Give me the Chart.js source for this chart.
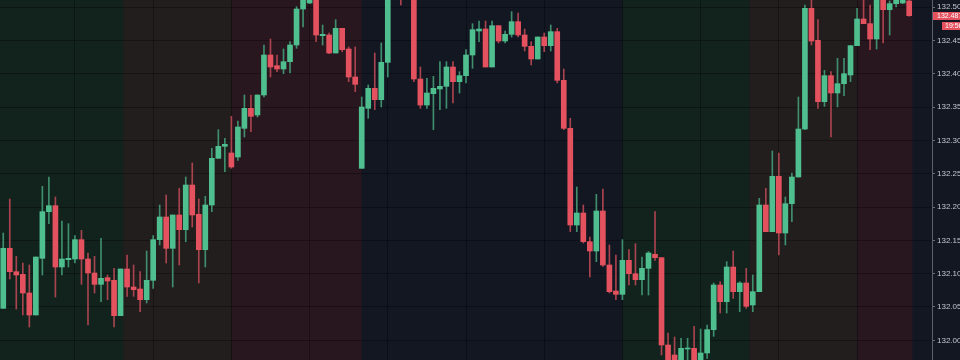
<!DOCTYPE html>
<html>
<head>
<meta charset="utf-8">
<script src="https://cdn.jsdelivr.net/npm/chart.js@4.4.1/dist/chart.umd.min.js"></script>
<style>
  html, body { margin: 0; padding: 0; background: #131722; }
  #wrap { width: 960px; height: 360px; position: relative; }
</style>
</head>
<body>
<div id="wrap"><canvas id="velas"></canvas></div>
<script>
// OHLC de cada vela (5 min)
const opens = [
  132.048, 132.138, 132.103, 132.099, 132.071, 132.038, 132.123, 132.193, 132.202, 132.110,
  132.121, 132.122, 132.151, 132.122, 132.101, 132.084, 132.094, 132.090, 132.037, 132.107,
  132.080, 132.077, 132.061, 132.090, 132.151, 132.185, 132.138, 132.188, 132.166, 132.233,
  132.189, 132.136, 132.203, 132.273, 132.291, 132.281, 132.275, 132.318, 132.348, 132.338,
  132.368, 132.428, 132.412, 132.407, 132.418, 132.443, 132.497, 132.506, 132.527, 132.457,
  132.458, 132.431, 132.468, 132.437, 132.395, 132.258, 132.348, 132.378, 132.361, 132.417,
  132.530, 132.565, 132.520, 132.550, 132.392, 132.353, 132.370, 132.377, 132.381, 132.410,
  132.388, 132.397, 132.428, 132.464, 132.467, 132.410, 132.472, 132.449, 132.459, 132.478,
  132.458, 132.441, 132.422, 132.455, 132.442, 132.463, 132.390, 132.318, 132.173, 132.191,
  132.148, 132.134, 132.194, 132.113, 132.074, 132.069, 132.120, 132.100, 132.091, 132.108,
  132.129, 132.124, 131.993, 131.978, 131.958, 131.987, 131.988, 131.962, 131.981, 132.016,
  132.083, 132.058, 132.110, 132.073, 132.086, 132.053, 132.073, 132.203, 132.163, 132.246,
  132.161, 132.205, 132.245, 132.317, 132.498, 132.450, 132.358, 132.397, 132.371, 132.385,
  132.398, 132.442, 132.482, 132.475, 132.452, 132.514, 132.496, 132.505, 132.506, 132.509
];
const highs = [
  132.161, 132.212, 132.126, 132.116, 132.113, 132.125, 132.231, 132.245, 132.215, 132.179,
  132.175, 132.157, 132.165, 132.131, 132.126, 132.153, 132.098, 132.108, 132.107, 132.128,
  132.113, 132.103, 132.134, 132.157, 132.203, 132.218, 132.188, 132.228, 132.245, 132.266,
  132.212, 132.216, 132.288, 132.316, 132.303, 132.336, 132.329, 132.368, 132.368, 132.368,
  132.443, 132.452, 132.428, 132.437, 132.448, 132.5005, 132.525, 132.535, 132.532, 132.473,
  132.461, 132.481, 132.468, 132.440, 132.440, 132.365, 132.383, 132.431, 132.446, 132.540,
  132.575, 132.570, 132.560, 132.555, 132.410, 132.393, 132.396, 132.418, 132.418, 132.418,
  132.403, 132.436, 132.475, 132.479, 132.479, 132.479, 132.472, 132.464, 132.493, 132.491,
  132.467, 132.448, 132.455, 132.461, 132.473, 132.468, 132.407, 132.333, 132.230, 132.203,
  132.155, 132.219, 132.227, 132.143, 132.128, 132.151, 132.136, 132.145, 132.125, 132.133,
  132.193, 132.124, 132.011, 132.005, 132.003, 132.003, 132.021, 132.017, 132.023, 132.086,
  132.088, 132.118, 132.134, 132.088, 132.108, 132.098, 132.213, 132.228, 132.284, 132.281,
  132.215, 132.251, 132.365, 132.503, 132.510, 132.481, 132.405, 132.403, 132.423, 132.423,
  132.442, 132.498, 132.512, 132.503, 132.520, 132.518, 132.509, 132.512, 132.513, 132.511
];
const lows = [
  132.048, 132.092, 132.047, 132.038, 132.020, 132.038, 132.098, 132.175, 132.065, 132.098,
  132.110, 132.116, 132.084, 132.023, 132.071, 132.058, 132.061, 132.020, 132.037, 132.066,
  132.066, 132.043, 132.056, 132.078, 132.143, 132.116, 132.080, 132.113, 132.148, 132.170,
  132.086, 132.110, 132.193, 132.273, 132.253, 132.258, 132.270, 132.305, 132.313, 132.335,
  132.365, 132.395, 132.403, 132.400, 132.401, 132.438, 132.470, 132.505, 132.448, 132.443,
  132.430, 132.431, 132.433, 132.388, 132.373, 132.258, 132.333, 132.346, 132.350, 132.395,
  132.522, 132.503, 132.513, 132.388, 132.348, 132.348, 132.316, 132.346, 132.348, 132.356,
  132.371, 132.386, 132.408, 132.448, 132.410, 132.410, 132.446, 132.446, 132.455, 132.455,
  132.434, 132.413, 132.422, 132.433, 132.434, 132.386, 132.316, 132.163, 132.163, 132.146,
  132.095, 132.118, 132.111, 132.071, 132.061, 132.061, 132.083, 132.083, 132.068, 132.068,
  132.120, 131.978, 131.953, 131.940, 131.948, 131.967, 131.955, 131.955, 131.973, 132.006,
  132.041, 132.041, 132.063, 132.043, 132.048, 132.043, 132.073, 132.163, 132.163, 132.128,
  132.143, 132.178, 132.245, 132.316, 132.443, 132.348, 132.351, 132.305, 132.350, 132.367,
  132.388, 132.442, 132.475, 132.436, 132.437, 132.446, 132.458, 132.500, 132.505, 132.486
];
const closes = [
  132.138, 132.103, 132.098, 132.071, 132.038, 132.125, 132.193, 132.202, 132.110, 132.122,
  132.123, 132.151, 132.122, 132.101, 132.084, 132.093, 132.089, 132.037, 132.107, 132.080,
  132.076, 132.061, 132.090, 132.151, 132.185, 132.138, 132.188, 132.166, 132.233, 132.188,
  132.136, 132.203, 132.273, 132.291, 132.294, 132.260, 132.320, 132.348, 132.336, 132.368,
  132.428, 132.410, 132.407, 132.418, 132.443, 132.497, 132.517, 132.528, 132.458, 132.459,
  132.431, 132.468, 132.436, 132.395, 132.384, 132.350, 132.378, 132.361, 132.417, 132.530,
  132.565, 132.520, 132.550, 132.392, 132.353, 132.371, 132.378, 132.381, 132.410, 132.388,
  132.397, 132.428, 132.466, 132.467, 132.410, 132.472, 132.449, 132.459, 132.478, 132.458,
  132.441, 132.422, 132.455, 132.442, 132.463, 132.390, 132.318, 132.173, 132.191, 132.148,
  132.134, 132.194, 132.113, 132.073, 132.069, 132.120, 132.100, 132.091, 132.108, 132.131,
  132.124, 131.993, 131.960, 131.955, 131.988, 131.988, 131.962, 131.981, 132.016, 132.083,
  132.058, 132.110, 132.073, 132.086, 132.051, 132.073, 132.203, 132.163, 132.246, 132.161,
  132.205, 132.245, 132.317, 132.498, 132.449, 132.358, 132.397, 132.371, 132.385, 132.400,
  132.442, 132.482, 132.475, 132.452, 132.515, 132.496, 132.505, 132.510, 132.510, 132.487
];

// Niveles del eje de precios
const priceTicks = [132.000, 132.050, 132.100, 132.150, 132.200, 132.250, 132.300, 132.350, 132.400, 132.450, 132.500];
const countdown = '19:56';

// Sesiones de fondo (en índice de vela) y su tipo
const sessionBreaks = [-0.5, 18.4, 35, 55, 95, 114.5, 131, 139.5];
const sessionKinds = ['asia', 'londres', 'nuevayork', 'fuera', 'asia', 'londres', 'nuevayork'];

const sessionColors = {
  asia: '#12231e',
  londres: '#221e1d',
  nuevayork: '#29171f',
  fuera: '#131722'
};
const upColor = '#4fbf8f';
const downColor = '#e5525f';
const upWick = '#3f8f6e';
const downWick = '#a9434e';
const gridColor = 'rgba(0, 0, 0, 0.32)';

const emptySlots = 3;
const labels = [];
for (let i = 0; i < opens.length + emptySlots; i++) labels.push(String(i));

const sessionBands = {
  id: 'sessionBands',
  beforeDraw(chart) {
    const { ctx, chartArea, scales: { x } } = chart;
    ctx.save();
    ctx.fillStyle = sessionColors.fuera;
    ctx.fillRect(0, 0, chart.width, chart.height);
    for (let s = 0; s < sessionKinds.length; s++) {
      const x0 = x.getPixelForValue(sessionBreaks[s]);
      const x1 = x.getPixelForValue(sessionBreaks[s + 1]);
      ctx.fillStyle = sessionColors[sessionKinds[s]];
      ctx.fillRect(x0, chartArea.top, x1 - x0, chartArea.bottom - chartArea.top);
    }
    ctx.restore();
  }
};

const priceTag = {
  id: 'priceTag',
  afterDraw(chart) {
    const { ctx, chartArea, scales: { y } } = chart;
    const last = closes[closes.length - 1];
    const py = Math.round(y.getPixelForValue(last));
    ctx.save();
    ctx.fillStyle = downColor;
    ctx.fillRect(chartArea.right + 1, py - 4, 40, 8);
    ctx.fillRect(chartArea.right + 10, py + 6, 40, 8);
    ctx.fillStyle = '#ffffff';
    ctx.font = '7px "Liberation Sans", Arial, sans-serif';
    ctx.textBaseline = 'middle';
    ctx.fillText(last.toFixed(3), chartArea.right + 5, py + 0.5);
    ctx.fillText(countdown, chartArea.right + 13, py + 10.5);
    ctx.restore();
  }
};

function renderVelas() {
  const ctx = document.getElementById('velas').getContext('2d');
  const up = opens.map((o, i) => closes[i] >= o);

  new Chart(ctx, {
    type: 'bar',
    data: {
      labels,
      datasets: [{
        label: 'mecha',
        data: lows.map((l, i) => [l, highs[i]]),
        backgroundColor: up.map(u => u ? upWick : downWick),
        barThickness: 1,
        grouped: false,
        borderSkipped: false,
        order: 2
      }, {
        label: 'cuerpo',
        data: opens.map((o, i) => [o, closes[i]]),
        backgroundColor: up.map(u => u ? upColor : downColor),
        barThickness: 5,
        minBarLength: 1,
        grouped: false,
        borderSkipped: false,
        order: 1
      }]
    },
    options: {
      responsive: true,
      maintainAspectRatio: false,
      animation: false,
      layout: { padding: 0 },
      plugins: {
        legend: { display: false },
        tooltip: { enabled: false }
      },
      scales: {
        x: {
          offset: true,
          grid: {
            offset: false,
            drawTicks: false,
            color: c => (c.index % 12 === 11 ? gridColor : 'rgba(0,0,0,0)')
          },
          border: { display: false },
          ticks: { display: false }
        },
        y: {
          position: 'right',
          min: 131.9705,
          max: 132.5105,
          afterBuildTicks: axis => { axis.ticks = priceTicks.map(v => ({ value: v })); },
          afterFit: axis => {
            axis.width = 28;
            axis.paddingTop = 0;
            axis.paddingBottom = 0;
          },
          grid: {
            color: gridColor,
            tickColor: '#6a6d78',
            tickLength: 3
          },
          border: { display: true, color: '#5d606b' },
          ticks: {
            padding: 2,
            color: '#c3c6ce',
            font: { family: '"Liberation Sans", Arial, sans-serif', size: 8 },
            callback: v => Number(v).toFixed(3)
          }
        }
      }
    },
    plugins: [sessionBands, priceTag]
  });
}

document.addEventListener('DOMContentLoaded', () => {
  renderVelas();
});
</script>
</body>
</html>
